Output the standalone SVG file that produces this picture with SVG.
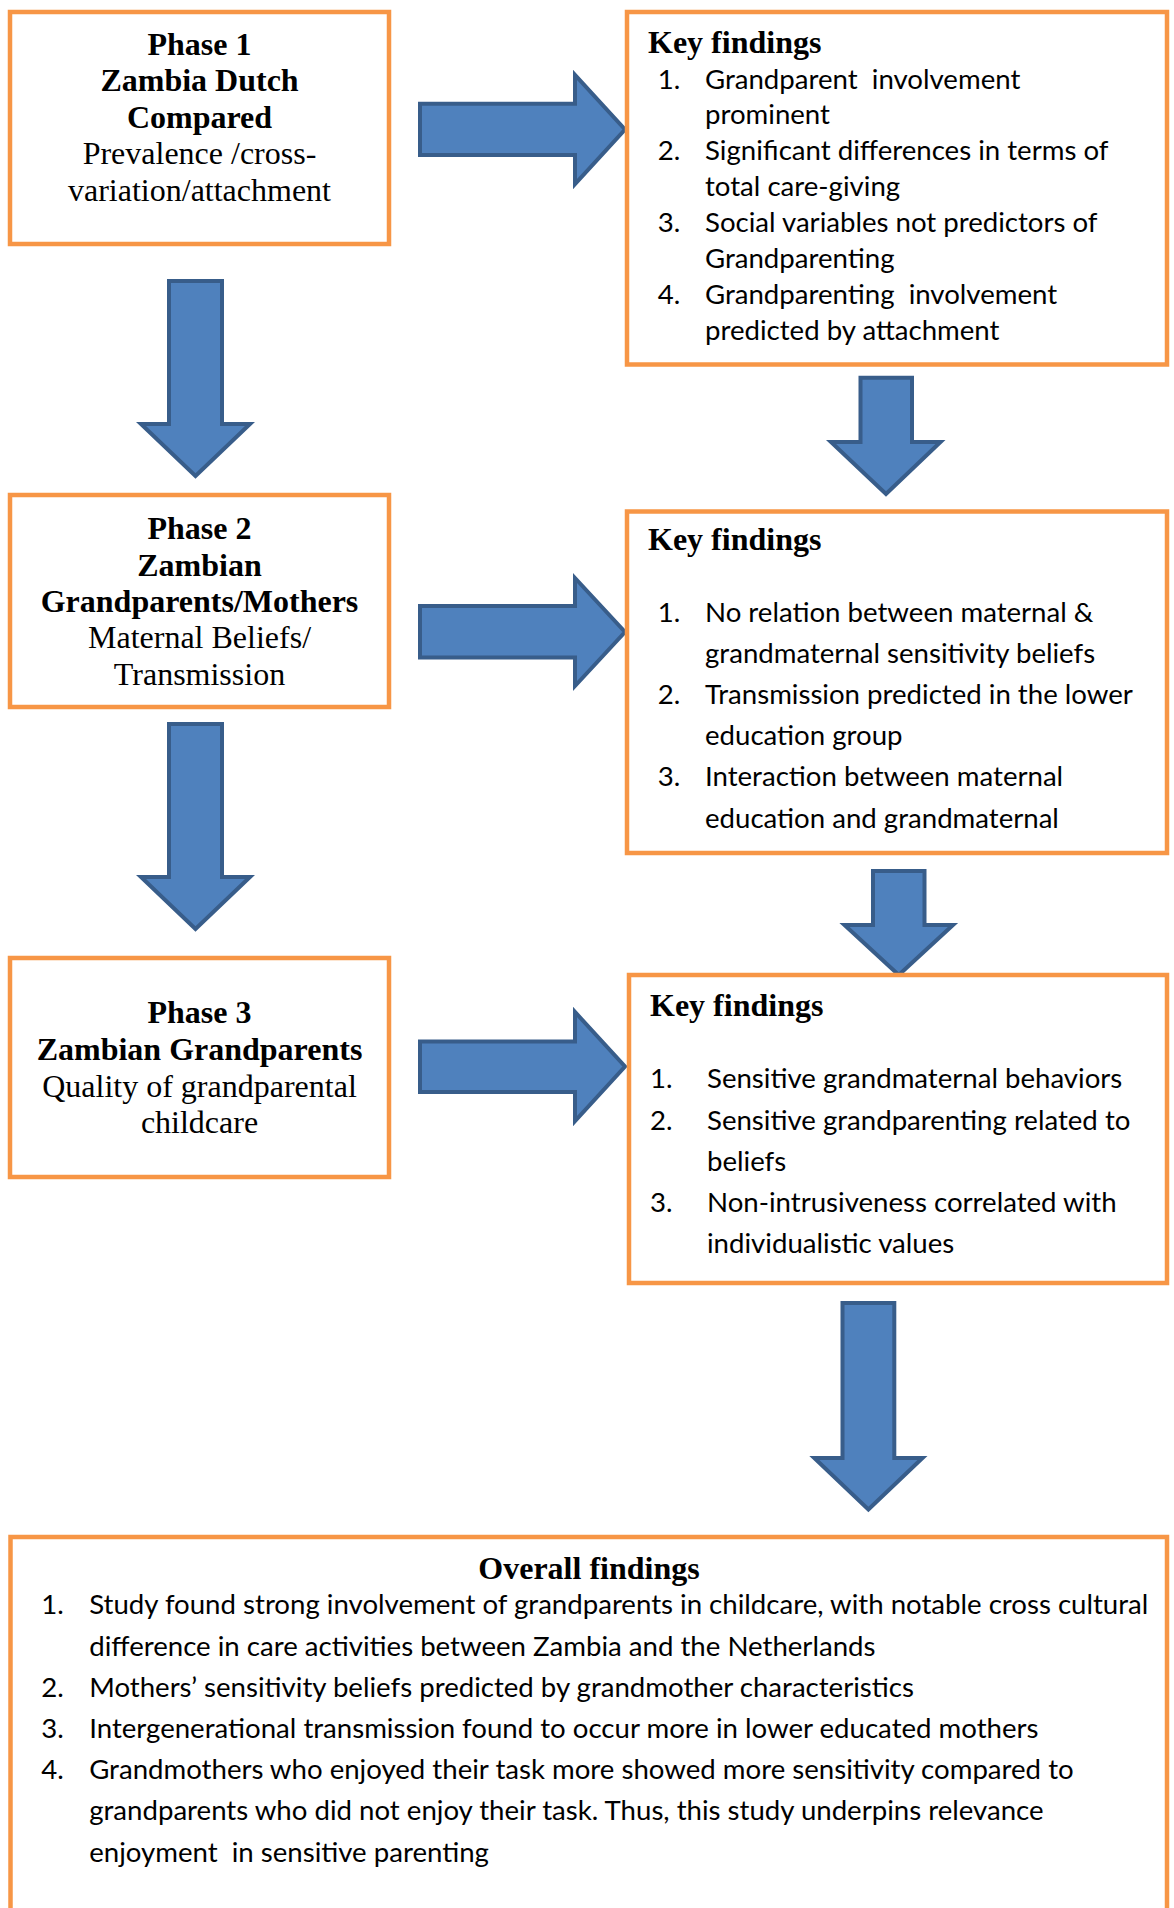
<svg xmlns="http://www.w3.org/2000/svg" width="1174" height="1908" viewBox="0 0 1174 1908">
<style>
.box{fill:#FFFFFF;stroke:#F79646;stroke-width:4.5}
.arr{fill:#4F81BD;stroke:#385D8A;stroke-width:4;stroke-linejoin:miter}
.ph{font-family:"Liberation Serif","Times New Roman",serif;font-size:32px;fill:#000;text-anchor:middle}
.b{font-weight:bold}
.hd{font-family:"Liberation Serif","Times New Roman",serif;font-size:32px;font-weight:bold;fill:#000}
.li{font-family:Lato,"Open Sans",sans-serif;font-size:27.6px;fill:#000}
</style>
<rect width="1174" height="1908" fill="#FFFFFF"/>
<g id="connectors">
<path class="arr" d="M420,103.7 H575 V75 L625,129.5 L575,184 V155 H420 Z"/>
<path class="arr" d="M169,281 H222 V424 H250 L195.5,476 L141,424 H169 Z"/>
<path class="arr" d="M860.5,377.7 H912 V442 H940.5 L886,494 L831,442 H860.5 Z"/>
<path class="arr" d="M420,606 H575 V578 L625,632 L575,686 V657.5 H420 Z"/>
<path class="arr" d="M169,724 H222 V877 H250 L195.5,929 L141,877 H169 Z"/>
<path class="arr" d="M873,871 H924.5 V925 H953 L898.75,975 L844.5,925 H873 Z"/>
<path class="arr" d="M420,1041.5 H575 V1012 L625,1066.5 L575,1121 V1092 H420 Z"/>
<path class="arr" d="M842.5,1303 H894.3 V1458 H922.5 L868.4,1509.5 L814.3,1458 H842.5 Z"/>
</g>
<g id="phase1">
<rect class="box" x="10" y="12" width="379" height="232"/>
<text class="ph b" x="199.5" y="55">Phase 1</text>
<text class="ph b" x="199.5" y="91">Zambia Dutch</text>
<text class="ph b" x="199.5" y="127.5">Compared</text>
<text class="ph" x="199.5" y="164">Prevalence /cross-</text>
<text class="ph" x="199.5" y="201">variation/attachment</text>
</g>
<g id="findings1">
<rect class="box" x="627" y="12" width="540" height="352.5"/>
<text class="hd" x="648" y="53">Key findings</text>
<text class="li" x="657.7" y="88.5">1.</text>
<text class="li" x="705" y="88.5" xml:space="preserve">Grandparent  involvement</text>
<text class="li" x="705" y="124.4">prominent</text>
<text class="li" x="657.7" y="160.3">2.</text>
<text class="li" x="705" y="160.3">Significant differences in terms of</text>
<text class="li" x="705" y="196.2">total care-giving</text>
<text class="li" x="657.7" y="232.1">3.</text>
<text class="li" x="705" y="232.1">Social variables not predictors of</text>
<text class="li" x="705" y="268">Grandparenting</text>
<text class="li" x="657.7" y="303.9">4.</text>
<text class="li" x="705" y="303.9" xml:space="preserve">Grandparenting  involvement</text>
<text class="li" x="705" y="339.8">predicted by attachment</text>
</g>
<g id="phase2">
<rect class="box" x="10" y="495" width="379" height="212"/>
<text class="ph b" x="199.5" y="539">Phase 2</text>
<text class="ph b" x="199.5" y="576">Zambian</text>
<text class="ph b" x="199.5" y="611.5">Grandparents/Mothers</text>
<text class="ph" x="199.5" y="648">Maternal Beliefs/</text>
<text class="ph" x="199.5" y="685">Transmission</text>
</g>
<g id="findings2">
<rect class="box" x="627" y="511.5" width="540" height="341.5"/>
<text class="hd" x="648" y="550">Key findings</text>
<text class="li" x="657.7" y="621.7">1.</text>
<text class="li" x="705" y="621.7">No relation between maternal &amp;</text>
<text class="li" x="705" y="662.9">grandmaternal sensitivity beliefs</text>
<text class="li" x="657.7" y="704">2.</text>
<text class="li" x="705" y="704">Transmission predicted in the lower</text>
<text class="li" x="705" y="745.2">education group</text>
<text class="li" x="657.7" y="786.4">3.</text>
<text class="li" x="705" y="786.4">Interaction between maternal</text>
<text class="li" x="705" y="827.6">education and grandmaternal</text>
</g>
<g id="phase3">
<rect class="box" x="10" y="958" width="379" height="219"/>
<text class="ph b" x="199.5" y="1023">Phase 3</text>
<text class="ph b" x="199.5" y="1060">Zambian Grandparents</text>
<text class="ph" x="199.5" y="1097">Quality of grandparental</text>
<text class="ph" x="199.5" y="1133">childcare</text>
</g>
<g id="findings3">
<rect class="box" x="629" y="975" width="538" height="308"/>
<text class="hd" x="650" y="1016">Key findings</text>
<text class="li" x="650" y="1088.3">1.</text>
<text class="li" x="707" y="1088.3">Sensitive grandmaternal behaviors</text>
<text class="li" x="650" y="1129.5">2.</text>
<text class="li" x="707" y="1129.5">Sensitive grandparenting related to</text>
<text class="li" x="707" y="1170.7">beliefs</text>
<text class="li" x="650" y="1211.9">3.</text>
<text class="li" x="707" y="1211.9">Non-intrusiveness correlated with</text>
<text class="li" x="707" y="1253.1">individualistic values</text>
</g>
<g id="overall">
<rect class="box" x="10.5" y="1537" width="1156.5" height="420"/>
<text class="hd" x="589" y="1578.5" text-anchor="middle">Overall findings</text>
<text class="li" x="41.3" y="1614.4">1.</text>
<text class="li" x="89.2" y="1614.4">Study found strong involvement of grandparents in childcare, with notable cross cultural</text>
<text class="li" x="89.2" y="1655.6">difference in care activities between Zambia and the Netherlands</text>
<text class="li" x="41.3" y="1696.8">2.</text>
<text class="li" x="89.2" y="1696.8">Mothers’ sensitivity beliefs predicted by grandmother characteristics</text>
<text class="li" x="41.3" y="1738">3.</text>
<text class="li" x="89.2" y="1738">Intergenerational transmission found to occur more in lower educated mothers</text>
<text class="li" x="41.3" y="1779.2">4.</text>
<text class="li" x="89.2" y="1779.2">Grandmothers who enjoyed their task more showed more sensitivity compared to</text>
<text class="li" x="89.2" y="1820.4">grandparents who did not enjoy their task. Thus, this study underpins relevance</text>
<text class="li" x="89.2" y="1861.6" xml:space="preserve">enjoyment  in sensitive parenting</text>
</g>
</svg>
